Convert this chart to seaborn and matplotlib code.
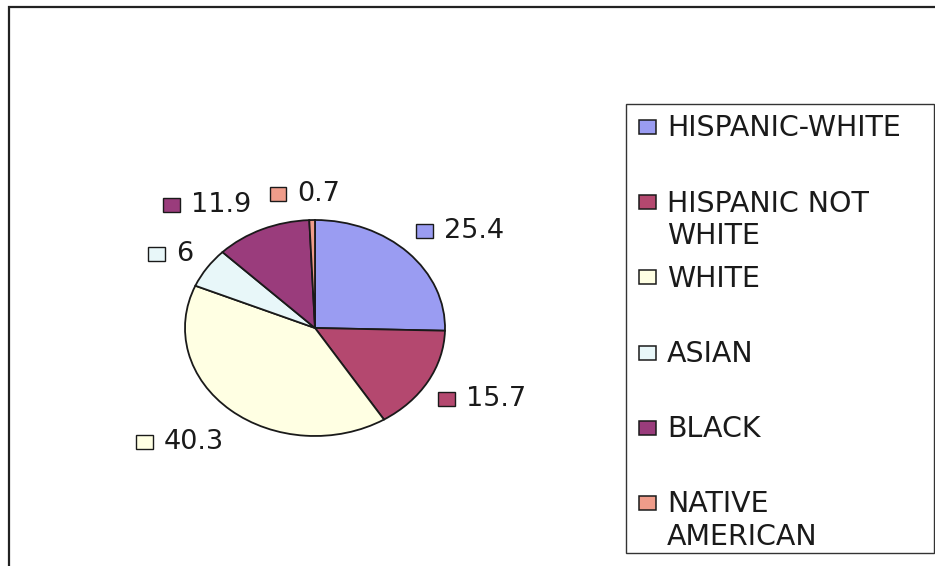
import numpy as np
import matplotlib
matplotlib.use("Agg")
import matplotlib.pyplot as plt
import seaborn as sns
from matplotlib.patches import Rectangle
from matplotlib.offsetbox import HPacker, TextArea, DrawingArea, AnnotationBbox

# data
groups = ["HISPANIC-WHITE", "HISPANIC NOT\nWHITE", "WHITE", "ASIAN", "BLACK", "NATIVE\nAMERICAN"]
shares = [25.4, 15.7, 40.3, 6, 11.9, 0.7]
share_labels = ["25.4", "15.7", "40.3", "6", "11.9", "0.7"]
colors = ["#9a9cf2", "#b4486f", "#ffffe3", "#e8f7f9", "#9a3c7c", "#ef9c8a"]

# small hand nudges (px) for the value labels, like Excel's own placement
label_nudge = [(15, 9), (9, -4), (-17, -1), (7, 10), (-34, 15), (-6, 17)]

sns.set_theme(style="white")
plt.rcParams["font.family"] = ["DejaVu Sans"]

W, H = 935, 566
fig = plt.figure(figsize=(W / 100, H / 100), dpi=100)
fig.patch.set_facecolor("white")


def fx(x):
    return x / W


def fy(y):
    return 1 - y / H


# outer frame of the chart area (runs off the right/bottom edge)
fig.patches.append(Rectangle((fx(9), fy(590)), fx(960 - 9), (590 - 7) / H,
                             transform=fig.transFigure, fill=False,
                             edgecolor="#222222", linewidth=1.6, zorder=0))

# pie axes: centre at (315, 328) px, radii 130 x 108 px -> slightly squashed
cx, cy, rx, ry = 315, 328, 130, 108
ax = fig.add_axes([fx(cx - 2 * rx), fy(cy + 2 * ry), 4 * rx / W, 4 * ry / H])
wedges, _ = ax.pie(shares, colors=colors, startangle=90, counterclock=False,
                   wedgeprops=dict(edgecolor="#1a1a1a", linewidth=1.3))
ax.set_aspect("auto")
ax.set_xlim(-2, 2)
ax.set_ylim(-2, 2)
ax.axis("off")

# data labels: small colour key + value, centred just outside each wedge
for w, lab, col, (dx, dy) in zip(wedges, share_labels, colors, label_nudge):
    ang = np.deg2rad((w.theta1 + w.theta2) / 2)
    r = 1.4
    key = DrawingArea(12, 10, 0, 0)
    key.add_artist(Rectangle((0, 0), 12, 10, facecolor=col,
                             edgecolor="#1a1a1a", linewidth=1.0))
    txt = TextArea(lab, textprops=dict(fontsize=19.5, color="#1a1a1a"))
    box = HPacker(children=[key, txt], align="center", pad=0, sep=8)
    ab = AnnotationBbox(box, (r * np.cos(ang), r * np.sin(ang)),
                        xybox=(dx * 0.72, -dy * 0.72), boxcoords="offset points",
                        xycoords="data", frameon=False, box_alignment=(0.5, 0.5))
    ax.add_artist(ab)

# legend box drawn by hand so the key sits on the first text line
fig.patches.append(Rectangle((fx(626), fy(553)), (934 - 626) / W, (553 - 104) / H,
                             transform=fig.transFigure, fill=False,
                             edgecolor="#333333", linewidth=1.0, zorder=1))
for i, (g, col) in enumerate(zip(groups, colors)):
    my = 127 + 75.2 * i
    fig.patches.append(Rectangle((fx(639), fy(my + 7)), 17 / W, 14 / H,
                                 transform=fig.transFigure, facecolor=col,
                                 edgecolor="#1a1a1a", linewidth=1.1, zorder=2))
    for j, line in enumerate(g.split("\n")):
        fig.text(fx(667), fy(my + 9.5 + 32.5 * j), line, fontsize=20.5,
                 color="#1a1a1a", va="baseline", ha="left")

fig.savefig("out.png", dpi=100, facecolor="white")
